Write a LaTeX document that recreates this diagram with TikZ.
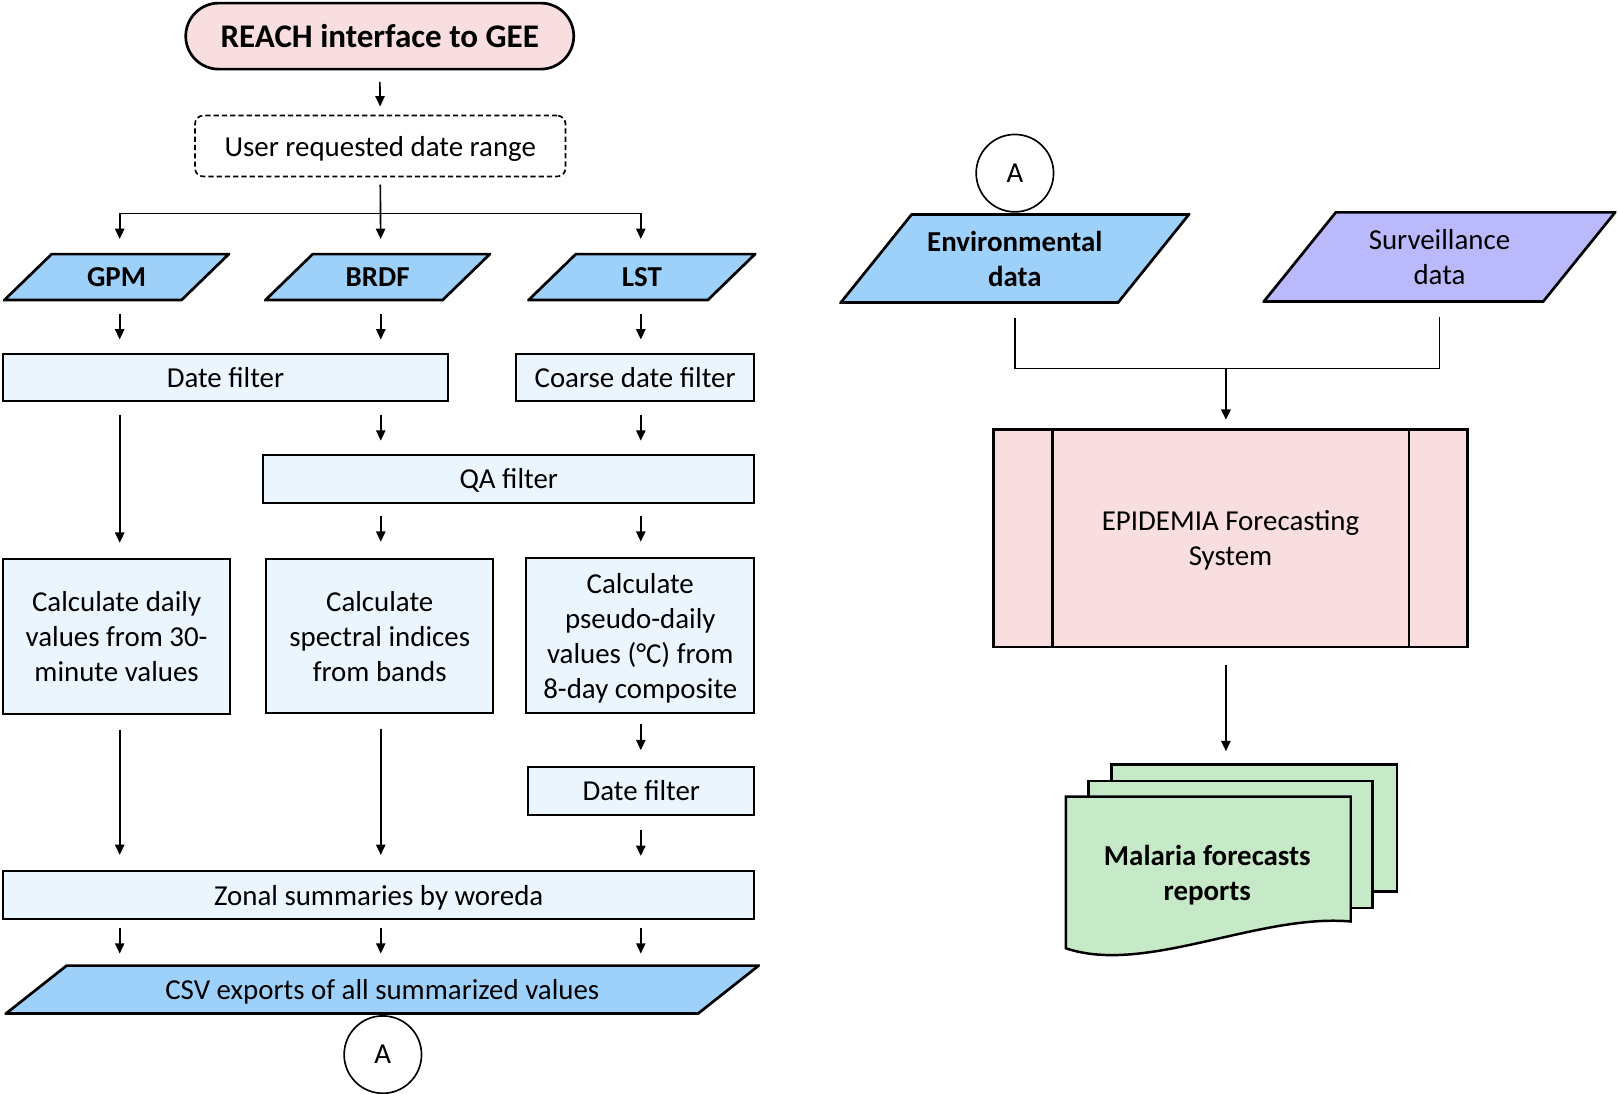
\documentclass[tikz,border=0pt]{standalone}
\usepackage{fontspec}
\setmainfont{Carlito}
\usepackage{xcolor}
\usepackage{tikz}
\usetikzlibrary{arrows.meta,calc,positioning,shapes.geometric}
\definecolor{termpink}{RGB}{248,222,222}
\definecolor{boxblue}{RGB}{235,245,254}
\definecolor{datablue}{RGB}{158,209,250}
\definecolor{survlav}{RGB}{185,185,252}
\definecolor{repgreen}{RGB}{198,234,200}

\begin{document}
\begin{tikzpicture}[x=0.5pt,y=-0.5pt,
  every node/.style={font=\fontsize{14}{17}\selectfont, align=center, inner sep=0pt, text depth=0pt},
  boldtext/.style={font=\fontsize{14}{17}\selectfont\bfseries},
  box/.style={draw, line width=1pt, fill=boxblue, minimum height=23pt},
  iodata/.style 2 args={path picture={
    \draw[line width=1.3pt, fill=#1]
      ($(path picture bounding box.south west)+(.65pt,.65pt)$)
      -- ($(path picture bounding box.north west)+(#2,-.65pt)$)
      -- ($(path picture bounding box.north east)+(-.65pt,-.65pt)$)
      -- ($(path picture bounding box.south east)+(-#2,.65pt)$) -- cycle;}},
  conn/.style={circle, draw, line width=.8pt, fill=white, minimum size=37.5pt},
  arr/.style={-{Triangle[length=5pt,width=4.5pt]}, line width=.8pt, shorten <=6pt, shorten >=6.5pt},
  page/.style={draw, line width=1.2pt, fill=repgreen}]
\useasboundingbox (0,0) rectangle (1568,1060);
% columns of the three products
\coordinate (c1) at (116,0);
\coordinate (c2) at (369,0);
\coordinate (c3) at (621,0);

% left flowchart
\node[draw, line width=1.3pt, fill=termpink, rounded corners=16pt, minimum width=188pt, minimum height=32pt] (reach) at (368,35)
  {\fontsize{16}{19}\selectfont\bfseries REACH interface to GEE};
\node[draw, dash pattern=on 2.5pt off 1.5pt, line width=.8pt, rounded corners=4pt, minimum width=179.5pt, minimum height=29.5pt] (user) at (368.5,141.5)
  {User requested date range};
\node[iodata={datablue}{23.5pt}, boldtext, minimum width=110pt, minimum height=23.5pt] (gpm) at (113,268.5) {GPM};
\node[iodata={datablue}{23.5pt}, boldtext, minimum width=110pt, minimum height=23.5pt] (brdf) at (366,268.5) {BRDF};
\node[iodata={datablue}{23.5pt}, boldtext, minimum width=111pt, minimum height=23.5pt] (lst) at (622,268.5) {LST};
\node[box, minimum width=215.5pt] (datef) at (218.5,366) {Date filter};
\node[box, minimum width=115.5pt] (coarse) at (615.5,366) {Coarse date filter};
\node[box, minimum width=238pt] (qa) at (493,464) {QA filter};
\node[box, minimum width=110pt, minimum height=75pt] (calcgpm) at (113,617) {Calculate daily\\values from 30-\\minute values};
\node[box, minimum width=110pt, minimum height=74.5pt] (calcbrdf) at (368,616.5) {Calculate\\spectral indices\\from bands};
\node[box, minimum width=110.5pt, minimum height=75pt] (calclst) at (620.5,616) {Calculate\\pseudo-daily\\values (°C) from\\8-day composite};
\node[box, minimum width=109.5pt, minimum height=23.5pt] (datef2) at (621.5,766.5) {Date filter};
\node[box, minimum width=364pt] (zonal) at (367,867.5) {Zonal summaries by woreda};
\node[iodata={datablue}{30pt}, minimum width=366pt, minimum height=24.5pt] (csv) at (370.5,959) {CSV exports of all summarized values};
\node[conn] (abot) at (371,1022) {A};

\draw[arr, shorten <=5.5pt, shorten >=4pt] (reach.south) -- (user.north);
\coordinate (split) at (369,207);
\draw[arr, shorten <=3.5pt] (user.south) -- (brdf.north -| c2);
\draw[arr, shorten <=0pt] (split) -| (gpm.north -| c1);
\draw[arr, shorten <=0pt] (split) -| (lst.north -| c3);
\draw[arr] (gpm.south -| c1) -- (datef.north -| c1);
\draw[arr] (brdf.south -| c2) -- (datef.north -| c2);
\draw[arr] (lst.south -| c3) -- (coarse.north -| c3);
\draw[arr, shorten >=7.5pt] (datef.south -| c1) -- (calcgpm.north -| c1);
\draw[arr] (datef.south -| c2) -- (qa.north -| c2);
\draw[arr] (coarse.south -| c3) -- (qa.north -| c3);
\draw[arr, shorten >=8pt] (qa.south -| c2) -- (calcbrdf.north -| c2);
\draw[arr, shorten >=7.5pt] (qa.south -| c3) -- (calclst.north -| c3);
\draw[arr, shorten <=7pt, shorten >=7.5pt] (calcgpm.south -| c1) -- (zonal.north -| c1);
\draw[arr, shorten <=7pt, shorten >=7.5pt] (calcbrdf.south -| c2) -- (zonal.north -| c2);
\draw[arr, shorten <=5pt, shorten >=7.5pt] (calclst.south -| c3) -- (datef2.north -| c3);
\draw[arr, shorten <=6.5pt, shorten >=7pt] (datef2.south -| c3) -- (zonal.north -| c3);
\foreach \c in {c1,c2,c3}
  \draw[arr, shorten <=4pt, shorten >=5pt] (zonal.south -| \c) -- (csv.north -| \c);

% right flowchart
\node[iodata={datablue}{35pt}, boldtext, minimum width=170pt, minimum height=44pt] (env) at (983.5,250.5) {Environmental\\data};
\node[conn, anchor=south] (atop) at (env.north) {A};
\node[iodata={survlav}{35.5pt}, minimum width=171.5pt, minimum height=44.5pt] (surv) at (1395,249) {Surveillance\\data};
\coordinate (merge) at (1188,357);
\draw[line width=.8pt, shorten <=6.5pt, shorten >=6.5pt] (env.south) |- (merge) -| (surv.south);
\node[draw, line width=1.2pt, fill=termpink, minimum width=229.5pt, minimum height=105.5pt] (epi) at (1192.5,521.5)
  {EPIDEMIA Forecasting\\System};
\draw[line width=1.2pt] ([xshift=29pt]epi.north west) -- ([xshift=29pt]epi.south west);
\draw[line width=1.2pt] ([xshift=-29pt]epi.north east) -- ([xshift=-29pt]epi.south east);
\draw[arr, line width=1.1pt, shorten <=0pt, shorten >=4pt] (merge) -- (epi.north -| merge);

% stacked report pages
\draw[page] (1077,741) rectangle (1354,864);
\draw[page] (1055,757) rectangle (1330,880);
\draw[page] (1033,772) -- (1309,772) -- (1309,893) .. controls (1220,885) and (1110,945) .. (1033,919) -- cycle;
\node[boldtext] (rep) at (1170,846) {Malaria forecasts\\reports};
\coordinate (reptop) at (1188,741);
\draw[arr, shorten <=8pt] (epi.south -| reptop) -- (reptop);
\end{tikzpicture}
\end{document}
